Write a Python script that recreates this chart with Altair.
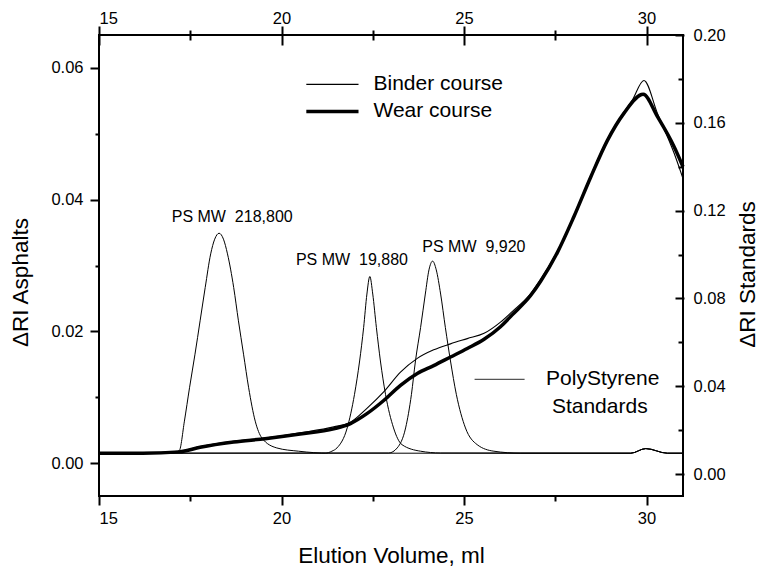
import altair as alt
import pandas as pd

# ---------------- data ----------------
# Asphalt chromatograms, left axis (ΔRI Asphalts)
binder_x = [15.0, 16.2, 17.2, 17.77, 18.69, 19.55, 20.51, 21.43, 21.89, 22.34, 22.80, 23.26,
            23.72, 24.17, 24.63, 25.09, 25.55, 26.00, 26.32, 26.82, 27.10, 27.56, 28.01,
            28.47, 28.93, 29.38, 29.60, 29.93, 30.30, 30.76, 31.0]
binder_y = [0.0016, 0.0016, 0.0018, 0.0025, 0.0033, 0.0038, 0.0046, 0.0055, 0.0062, 0.0083,
            0.0108, 0.0138, 0.0159, 0.0172, 0.0181, 0.0189, 0.0197, 0.0214, 0.0230, 0.0257,
            0.0279, 0.0322, 0.0375, 0.0436, 0.0492, 0.0533, 0.0550, 0.0581, 0.0531, 0.0470,
            0.0432]
wear_x = [15.0, 16.2, 17.2, 17.77, 18.69, 19.55, 20.51, 21.43, 21.89, 22.34, 22.80, 23.26,
          23.72, 24.17, 24.63, 25.09, 25.55, 26.00, 26.32, 26.82, 27.10, 27.56, 28.01,
          28.47, 28.93, 29.38, 29.91, 30.30, 30.76, 31.0]
wear_y = [0.0015, 0.0015, 0.0017, 0.0024, 0.0032, 0.0037, 0.0044, 0.0052, 0.0060, 0.0075,
          0.0095, 0.0118, 0.0136, 0.0148, 0.0161, 0.0174, 0.0188, 0.0207, 0.0225, 0.0254,
          0.0276, 0.0320, 0.0374, 0.0434, 0.0490, 0.0531, 0.0560, 0.0526, 0.0480, 0.0450]

# Polystyrene standards, right axis (ΔRI Standards)
ps1_x = [15.0, 17.0, 17.20, 17.34, 17.48, 17.63, 17.77, 17.91, 18.06, 18.17, 18.29, 18.41,
         18.52, 18.69, 18.82, 18.96, 19.10, 19.28, 19.46, 19.87, 20.47, 21.3, 29.57, 29.98,
         30.57, 31.0]
ps1_y = [0.0095, 0.0095, 0.0107, 0.0241, 0.0393, 0.0546, 0.0698, 0.0850, 0.1003, 0.1070,
         0.1097, 0.1070, 0.1003, 0.0850, 0.0698, 0.0546, 0.0393, 0.0241, 0.0165, 0.0119,
         0.0104, 0.0095, 0.0095, 0.0116, 0.0095, 0.0095]
ps2_x = [15.0, 21.2, 21.38, 21.52, 21.80, 22.00, 22.14, 22.25, 22.34, 22.42, 22.50, 22.60,
         22.71, 22.85, 23.07, 23.30, 23.81, 24.36, 29.57, 29.98, 30.57, 31.0]
ps2_y = [0.0095, 0.0095, 0.0104, 0.0119, 0.0210, 0.0363, 0.0515, 0.0667, 0.0820, 0.0900,
         0.0820, 0.0667, 0.0515, 0.0363, 0.0210, 0.0134, 0.0104, 0.0096, 0.0095, 0.0116,
         0.0095, 0.0095]
ps3_x = [15.0, 22.94, 23.17, 23.40, 23.56, 23.67, 23.81, 23.94, 24.04, 24.14, 24.24, 24.36,
         24.49, 24.63, 24.79, 25.04, 25.36, 25.82, 26.55, 29.57, 29.98, 30.57, 31.0]
ps3_y = [0.0095, 0.0096, 0.0119, 0.0210, 0.0363, 0.0515, 0.0667, 0.0820, 0.0930, 0.0970,
         0.0930, 0.0820, 0.0667, 0.0515, 0.0363, 0.0210, 0.0134, 0.0104, 0.0095, 0.0095,
         0.0116, 0.0095, 0.0095]

# Peak annotations (x in ml, y in ΔRI Standards units)
ps_labels = ["PS MW\u00a0\u00a0218,800", "PS MW\u00a0\u00a019,880", "PS MW\u00a0\u00a09,920"]
ps_label_x = [18.65, 21.93, 25.27]
ps_label_y = [0.1173, 0.0977, 0.1036]

# Legend entries (x in ml, y in ΔRI Asphalts units)
legend_names = ["Binder course", "Wear course"]
legend_line_x = [20.68, 22.11]
legend_y = [0.0575, 0.0534]
legend_text_x = [22.52, 22.52]
ps_legend_lines = ["PolyStyrene", "Standards"]
ps_legend_text_x = [28.80, 28.72]
ps_legend_text_y = [0.0127, 0.0085]
ps_legend_line_x = [25.29, 26.66]

# Axes
x_ticks = [15, 20, 25, 30]
x_minor = [17.5, 22.5, 27.5]
left_ticks = [0.0, 0.02, 0.04, 0.06]
left_minor = [0.01, 0.03, 0.05]
right_ticks = [0.0, 0.04, 0.08, 0.12, 0.16, 0.20]
right_minor = [0.02, 0.06, 0.10, 0.14, 0.18]
X_DOMAIN = [15, 31]
LEFT_DOMAIN = [-0.005, 0.065]
RIGHT_DOMAIN = [-0.01, 0.20]

# ---------------- tables ----------------
binder_df = pd.DataFrame({"x": binder_x, "y": binder_y})
wear_df = pd.DataFrame({"x": wear_x, "y": wear_y})
ps1_df = pd.DataFrame({"x": ps1_x, "y": ps1_y})
ps2_df = pd.DataFrame({"x": ps2_x, "y": ps2_y})
ps3_df = pd.DataFrame({"x": ps3_x, "y": ps3_y})
ann_df = pd.DataFrame({"label": ps_labels, "x": ps_label_x, "y": ps_label_y})
leg_text_df = pd.DataFrame({"name": legend_names, "x": legend_text_x, "y": legend_y})
leg_binder_df = pd.DataFrame({"x": legend_line_x, "y": [legend_y[0]] * 2})
leg_wear_df = pd.DataFrame({"x": legend_line_x, "y": [legend_y[1]] * 2})
psleg_df = pd.DataFrame({"label": ps_legend_lines, "x": ps_legend_text_x, "y": ps_legend_text_y})
psleg_line_df = pd.DataFrame({"x": ps_legend_line_x, "y": [ps_legend_text_y[0]] * 2})
xt_df = pd.DataFrame({"v": x_ticks})

FONT = "Liberation Sans"


def xs():
    return alt.Scale(domain=X_DOMAIN, nice=False, zero=False)


def ls():
    return alt.Scale(domain=LEFT_DOMAIN, nice=False, zero=False)


def rs():
    return alt.Scale(domain=RIGHT_DOMAIN, nice=False, zero=False)


def ax(**kw):
    base = dict(domain=False, gridOpacity=0, tickColor="black", tickWidth=2,
                labelFont=FONT, labelFontSize=16.5, labelColor="black",
                titleFont=FONT, titleFontSize=22.5, titleFontWeight="normal",
                titleColor="black")
    base.update(kw)
    return alt.Axis(**base)


# main curves (first layer carries the bottom and left axes)
wear = alt.Chart(wear_df).mark_line(color="black", strokeWidth=3.5,
                                    interpolate="monotone").encode(
    x=alt.X("x:Q", scale=xs(), axis=ax(orient="bottom", values=x_ticks, tickSize=9,
                                       labelPadding=5, title="Elution Volume, ml",
                                       titlePadding=18)),
    y=alt.Y("y:Q", scale=ls(), axis=ax(orient="left", values=left_ticks, tickSize=9,
                                       labelPadding=7, format=".2f",
                                       title="ΔRI Asphalts", titlePadding=18, titleY=247)),
)
std1 = alt.Chart(ps1_df).mark_line(color="black", strokeWidth=1.0,
                                   interpolate="monotone").encode(
    x=alt.X("x:Q", scale=xs(), axis=ax(orient="top", values=x_ticks, tickSize=9,
                                       labelPadding=0, title=None)),
    y=alt.Y("y:Q", scale=rs(), axis=ax(orient="right", values=right_ticks, tickSize=1,
                                       labelPadding=9, format=".2f",
                                       title="ΔRI Standards", titleAngle=270,
                                       titlePadding=34, titleY=239)),
)
std2 = alt.Chart(ps2_df).mark_line(color="black", strokeWidth=1.0,
                                   interpolate="monotone").encode(
    x=alt.X("x:Q", scale=xs(), axis=None),
    y=alt.Y("y:Q", scale=rs(), axis=None),
)
std3 = alt.Chart(ps3_df).mark_line(color="black", strokeWidth=1.0,
                                   interpolate="monotone").encode(
    x=alt.X("x:Q", scale=xs(), axis=None),
    y=alt.Y("y:Q", scale=rs(), axis=None),
)
binder = alt.Chart(binder_df).mark_line(color="black", strokeWidth=1.1,
                                        interpolate="monotone").encode(
    x=alt.X("x:Q", scale=xs(), axis=None),
    y=alt.Y("y:Q", scale=ls(), axis=None),
)


# extra tick-only axes (minor ticks, inward ticks)
def x_axis_layer(axis):
    return alt.Chart(xt_df).mark_point(opacity=0).encode(
        x=alt.X("v:Q", scale=xs(), axis=axis))


def y_axis_layer(axis, scale):
    return alt.Chart(xt_df).mark_point(opacity=0).encode(
        y=alt.Y("v:Q", scale=scale, axis=axis))


bottom_minor = x_axis_layer(ax(orient="bottom", values=x_minor, tickSize=5, labels=False,
                               title=None))
top_inner = x_axis_layer(ax(orient="top", values=x_ticks, tickSize=10, offset=-10,
                            labels=False, title=None))
top_minor = x_axis_layer(ax(orient="top", values=x_minor, tickSize=10, offset=-5,
                            labels=False, title=None))
left_minor_ax = y_axis_layer(ax(orient="left", values=left_minor, tickSize=4, labels=False,
                                title=None), ls())
right_major_ticks = y_axis_layer(ax(orient="right", values=right_ticks, tickSize=8, offset=-8,
                                    labels=False, title=None), rs())
right_minor_ax = y_axis_layer(ax(orient="right", values=right_minor, tickSize=5, offset=-5,
                                 labels=False, title=None), rs())

# annotations
ann = alt.Chart(ann_df).mark_text(font=FONT, fontSize=16, color="black", align="center",
                                  baseline="middle").encode(
    x=alt.X("x:Q", scale=xs(), axis=None),
    y=alt.Y("y:Q", scale=rs(), axis=None),
    text="label:N",
)

# legend (drawn in data units)
leg_binder = alt.Chart(leg_binder_df).mark_line(color="black", strokeWidth=1.1).encode(
    x=alt.X("x:Q", scale=xs(), axis=None), y=alt.Y("y:Q", scale=ls(), axis=None))
leg_wear = alt.Chart(leg_wear_df).mark_line(color="black", strokeWidth=3.5).encode(
    x=alt.X("x:Q", scale=xs(), axis=None), y=alt.Y("y:Q", scale=ls(), axis=None))
leg_text = alt.Chart(leg_text_df).mark_text(font=FONT, fontSize=21, color="black",
                                            align="left", baseline="middle").encode(
    x=alt.X("x:Q", scale=xs(), axis=None),
    y=alt.Y("y:Q", scale=ls(), axis=None),
    text="name:N")
psleg_line = alt.Chart(psleg_line_df).mark_line(color="#555555", strokeWidth=1.2).encode(
    x=alt.X("x:Q", scale=xs(), axis=None), y=alt.Y("y:Q", scale=ls(), axis=None))
psleg_text = alt.Chart(psleg_df).mark_text(font=FONT, fontSize=21, color="black",
                                           align="center", baseline="middle").encode(
    x=alt.X("x:Q", scale=xs(), axis=None),
    y=alt.Y("y:Q", scale=ls(), axis=None),
    text="label:N")

chart = alt.layer(
    wear, std1,
    bottom_minor, top_inner, top_minor,
    left_minor_ax, right_major_ticks, right_minor_ax,
    std2, std3, binder, ann, leg_binder, leg_wear, leg_text, psleg_line, psleg_text,
).resolve_scale(y="independent").resolve_axis(x="independent", y="independent").properties(
    width=584, height=461,
    autosize=alt.AutoSizeParams(type="none"),
    padding={"left": 99, "top": 35, "right": 77, "bottom": 73},
    background="white",
).configure_view(stroke="black", strokeWidth=2)

chart.save("out.html", embed_options={"renderer": "svg", "actions": False})
